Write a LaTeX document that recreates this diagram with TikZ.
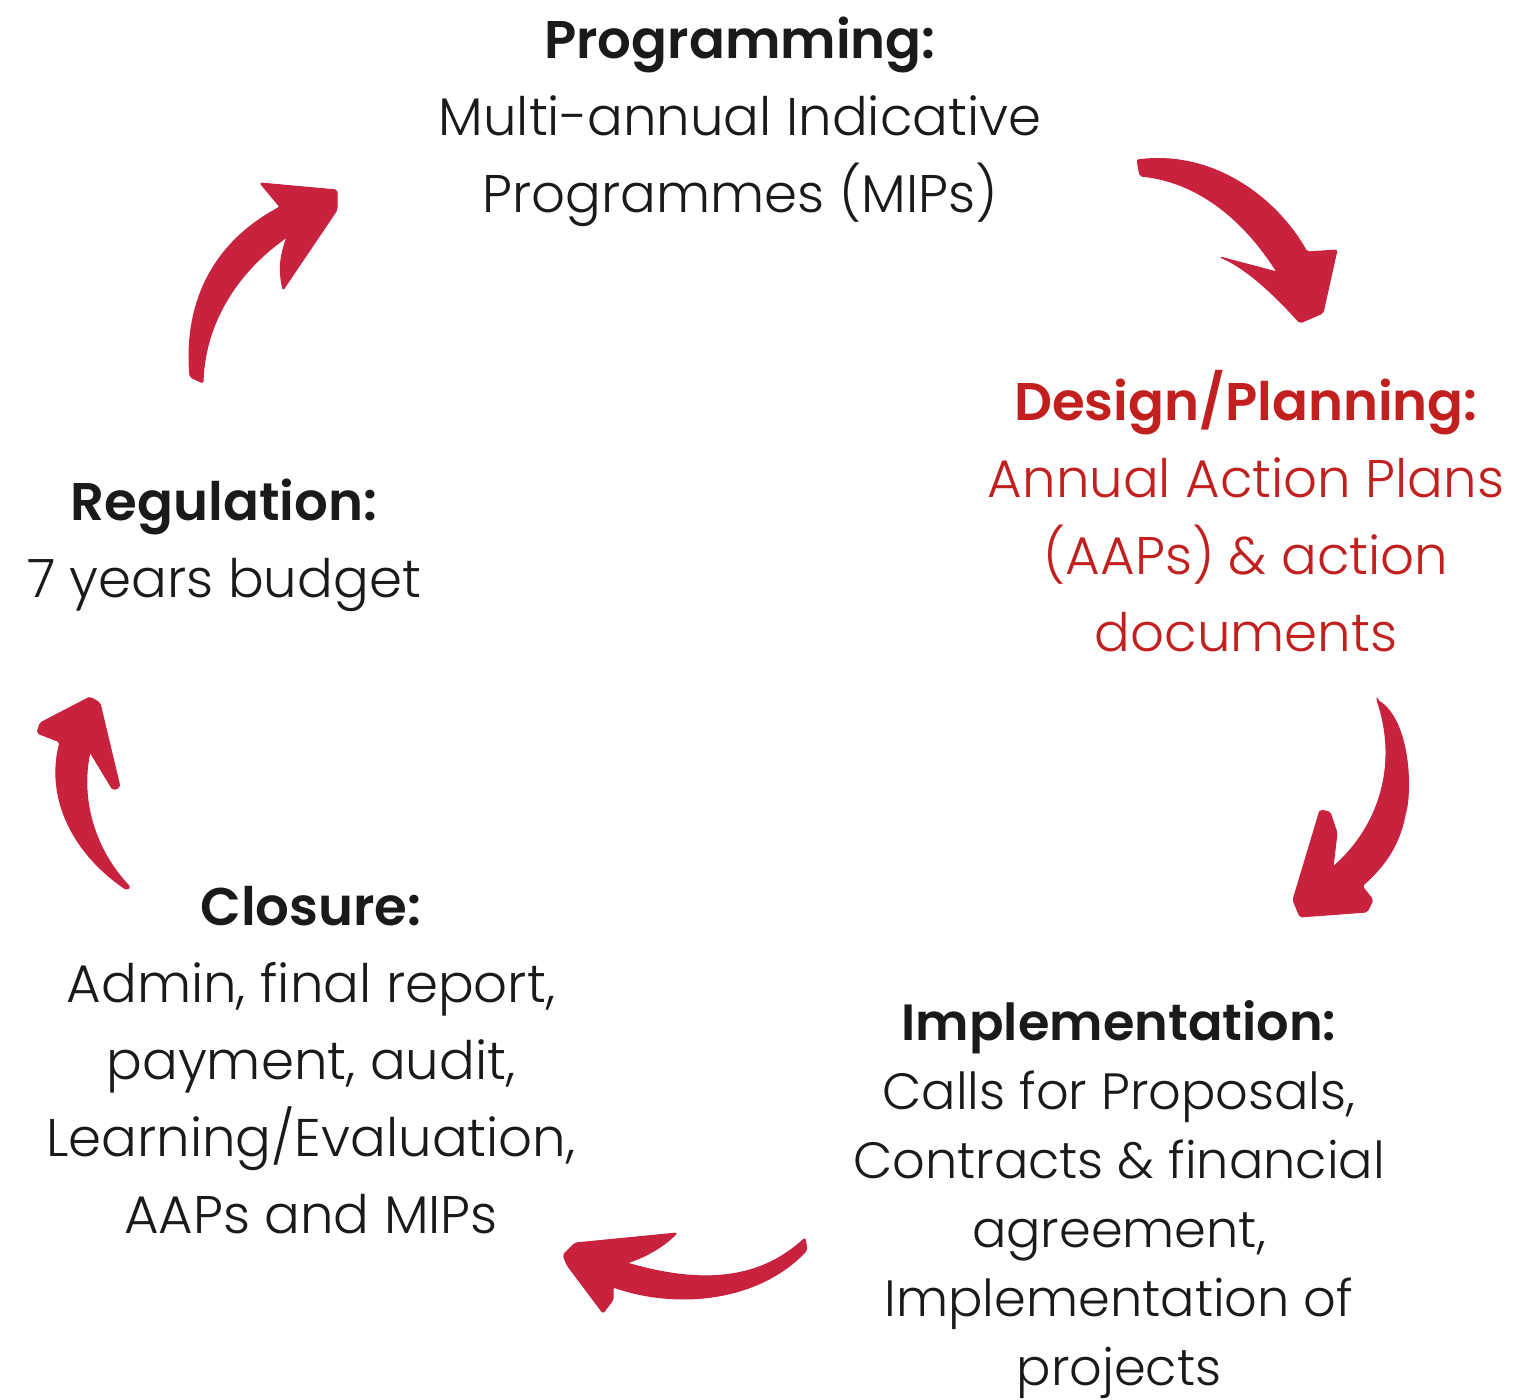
\documentclass[tikz,border=0pt]{standalone}
\usepackage{fontspec}
\setmainfont{Poppins}[UprightFont=* Light, BoldFont=* SemiBold]
\definecolor{arrowred}{HTML}{C8223F}
\definecolor{designred}{HTML}{C21F1F}
\definecolor{txt}{HTML}{1A1A1A}
\newcommand{\blk}[1]{\begin{tabular}[t]{@{}c@{}}#1\end{tabular}}
\begin{document}
\begin{tikzpicture}[x=1pt,y=-1pt,
  lbl/.style={anchor=base,inner sep=0pt,text=txt,font=\fontsize{53}{77}\selectfont},
  brush/.style={fill=arrowred,draw=arrowred,line width=1pt,line join=round,rounded corners=2pt}]
\useasboundingbox (0,0) rectangle (1526,1400);
\fill[white] (0,0) rectangle (1526,1400);

% text blocks
\node[lbl] (prog) at (740,58) {\blk{\textbf{Programming:}\\Multi-annual Indicative\\Programmes (MIPs)}};
\node[lbl,text=designred] (design) at (1246,420) {\blk{\textbf{Design/Planning:}\\Annual Action Plans\\(AAPs) \& action\\documents}};
\node[lbl] (reg) at (224,520) {\blk{\textbf{Regulation:}\\7 years budget}};
\node[lbl] (clos) at (311,925) {\blk{\textbf{Closure:}\\Admin, final report,\\payment, audit,\\Learning/Evaluation,\\AAPs and MIPs}};
\node[lbl,font=\fontsize{51}{69}\selectfont] (impl) at (1119,1040) {\blk{\textbf{Implementation:}\\Calls for Proposals,\\Contracts \& financial\\agreement,\\Implementation of\\projects}};

% arrow 1: Programming -> Design
\path[brush] (1137,160) .. controls (1215,150) and (1278,200) .. (1307,252)
  -- (1337,250) -- (1323,313) -- (1300,323)
  .. controls (1270,290) and (1245,268) .. (1220,257)
  -- (1277,272)
  .. controls (1245,222) and (1200,182) .. (1140,176) -- cycle;

% arrow 2: Regulation -> Programming
\path[brush] (190,377) .. controls (185,320) and (200,250) .. (280,207)
  -- (260,183) -- (337,190) -- (337,210) -- (283,290)
  .. controls (280,275) and (278,262) .. (287,237)
  .. controls (240,270) and (205,320) .. (203,383) -- cycle;

% arrow 3: Design -> Implementation
\path[brush] (1377,700) .. controls (1410,720) and (1412,790) .. (1405,815)
  .. controls (1398,850) and (1380,870) .. (1362,886)
  -- (1373,900) -- (1367,912) -- (1300,917) -- (1293,900)
  -- (1320,810) -- (1330,812) -- (1337,833) -- (1333,867)
  .. controls (1375,830) and (1400,770) .. (1377,700) -- cycle;

% arrow 4: Closure -> Regulation
\path[brush] (127,890) .. controls (75,855) and (45,800) .. (60,742)
  -- (37,733) -- (40,723) -- (90,697) -- (100,703) -- (120,787) -- (113,790)
  -- (90,752)
  .. controls (80,800) and (95,850) .. (130,887) -- cycle;

% arrow 5: Implementation -> Closure
\path[brush] (805,1238) .. controls (770,1270) and (720,1290) .. (627,1263)
  .. controls (650,1255) and (665,1245) .. (677,1233)
  -- (575,1243) -- (563,1255) -- (567,1265) -- (603,1313) -- (613,1300)
  -- (613,1287)
  .. controls (680,1310) and (760,1300) .. (807,1250) -- cycle;
\end{tikzpicture}
\end{document}
